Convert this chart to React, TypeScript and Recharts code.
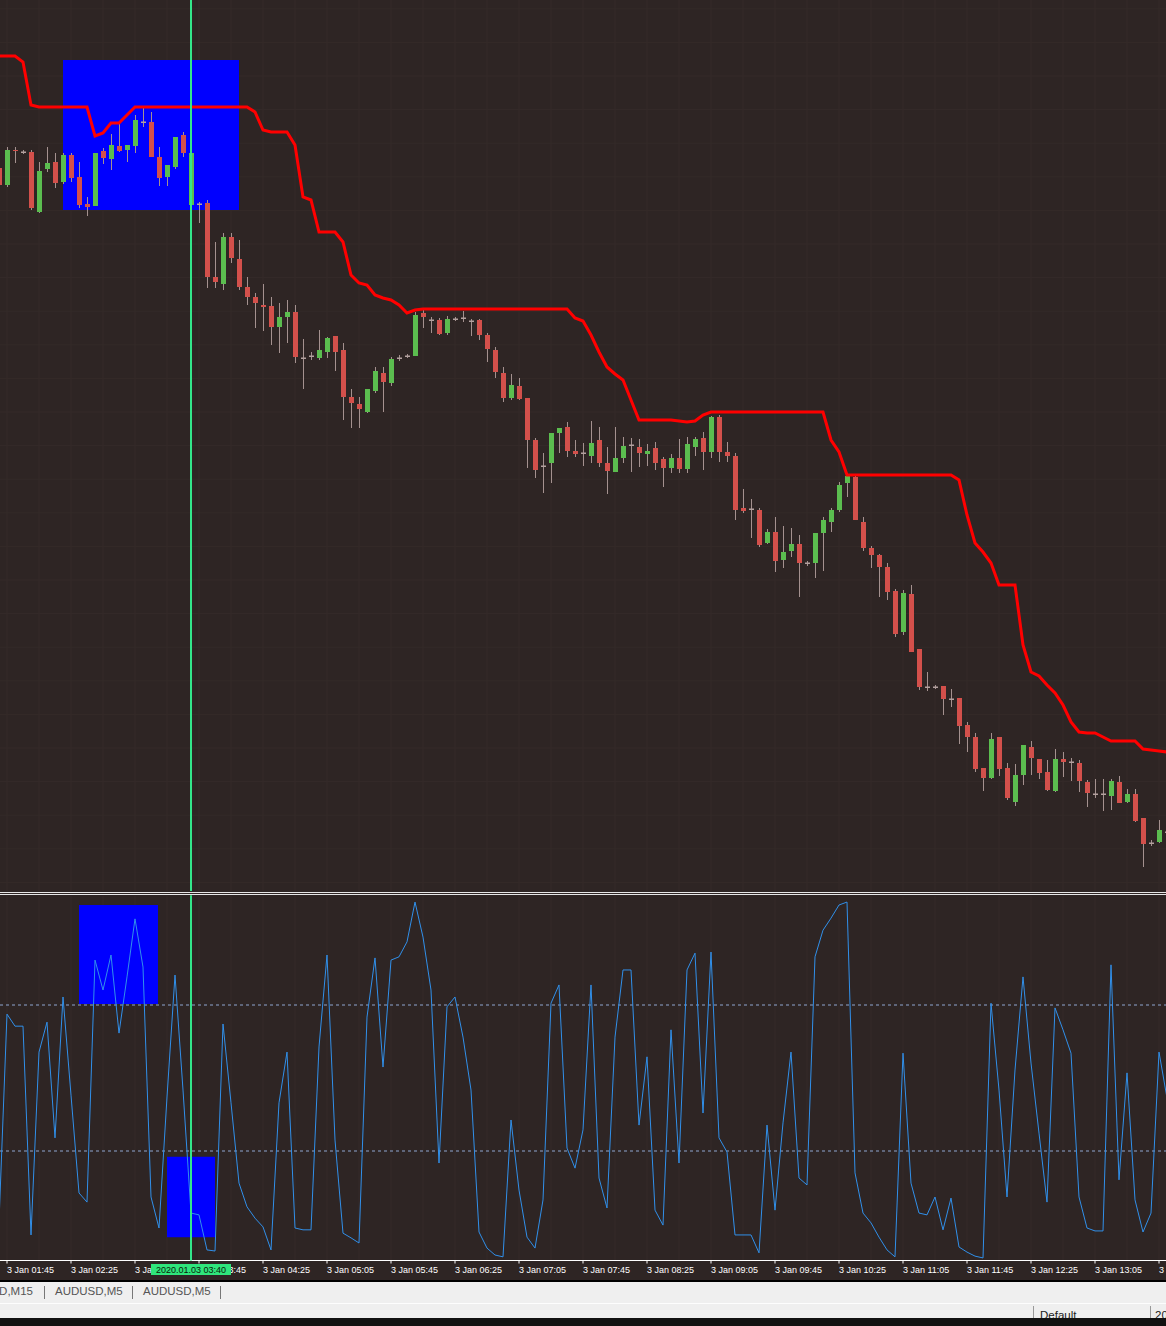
import React from 'react';
import {
  ComposedChart,
  Bar,
  Line,
  XAxis,
  YAxis,
  ReferenceArea,
  ReferenceLine,
  CartesianGrid,
} from 'recharts';

// ---------- data (AUDUSD M5, 3 Jan 2020, first bar = 01:40) ----------
const OPEN = [
  0.69832, 0.69815, 0.6985, 0.69848, 0.69848, 0.69788, 0.69831, 0.69838, 0.69818, 0.69845,
  0.69823, 0.69796, 0.69794, 0.69849, 0.69841, 0.69854, 0.6985, 0.69854, 0.69878, 0.69878,
  0.69843, 0.69823, 0.69833, 0.69865, 0.69795, 0.69796, 0.69797, 0.69723, 0.69716, 0.69763,
  0.69741, 0.69713, 0.69703, 0.69695, 0.69694, 0.69673, 0.69683, 0.69688, 0.69642, 0.69644,
  0.69642, 0.69648, 0.69664, 0.6965, 0.69603, 0.69596, 0.69588, 0.69609, 0.69627, 0.69617,
  0.69642, 0.69644, 0.69644, 0.69687, 0.6968, 0.6968, 0.69667, 0.69681, 0.69682, 0.69679,
  0.6968, 0.69665, 0.6965, 0.69627, 0.69602, 0.69614, 0.69602, 0.6956, 0.69534, 0.69537,
  0.69567, 0.69573, 0.69549, 0.69547, 0.69544, 0.6956, 0.69537, 0.69528, 0.69542, 0.69555,
  0.69553, 0.69546, 0.69552, 0.69541, 0.69532, 0.69542, 0.69531, 0.69553, 0.69562, 0.69548,
  0.69583, 0.69548, 0.69544, 0.69492, 0.69491, 0.6949, 0.69457, 0.69468, 0.6944, 0.69449,
  0.69456, 0.69437, 0.69437, 0.69467, 0.69478, 0.6949, 0.69517, 0.69523, 0.69478, 0.69452,
  0.69445, 0.69433, 0.69409, 0.69368, 0.69406, 0.69351, 0.69313, 0.69313, 0.69314, 0.69301,
  0.69302, 0.69275, 0.69263, 0.69232, 0.69222, 0.69263, 0.69232, 0.69198, 0.69225, 0.69253,
  0.69241, 0.69228, 0.69209, 0.69241, 0.69238, 0.69237, 0.69218, 0.69206, 0.69206, 0.69204,
  0.69218, 0.69198, 0.69206, 0.69182, 0.69157, 0.69158, 0.69168,
];
const HIGH = [
  0.69842, 0.69853, 0.69853, 0.6985, 0.6985, 0.69838, 0.69853, 0.69847, 0.69847, 0.69847,
  0.69838, 0.69803, 0.69847, 0.69852, 0.69866, 0.69877, 0.69855, 0.69885, 0.69892, 0.69888,
  0.69853, 0.69835, 0.69863, 0.69868, 0.6985, 0.69798, 0.698, 0.69758, 0.69767, 0.69767,
  0.6976, 0.69723, 0.69707, 0.69716, 0.69703, 0.69697, 0.697, 0.69695, 0.69661, 0.69648,
  0.6967, 0.69663, 0.69664, 0.69657, 0.69611, 0.69603, 0.69611, 0.69633, 0.69633, 0.69643,
  0.69645, 0.69646, 0.69688, 0.6969, 0.69683, 0.69682, 0.69684, 0.69683, 0.69689, 0.69681,
  0.69681, 0.69667, 0.69653, 0.69633, 0.69626, 0.69622, 0.69602, 0.69562, 0.69547, 0.69567,
  0.69572, 0.69578, 0.6956, 0.69557, 0.69579, 0.69573, 0.69553, 0.69573, 0.69563, 0.69562,
  0.69561, 0.69556, 0.69558, 0.69543, 0.69546, 0.69561, 0.69563, 0.69563, 0.69568, 0.69584,
  0.69585, 0.69558, 0.69547, 0.69511, 0.69501, 0.69492, 0.69471, 0.69483, 0.69474, 0.69472,
  0.69465, 0.69439, 0.69467, 0.69483, 0.69492, 0.69518, 0.69524, 0.69524, 0.69483, 0.69454,
  0.69446, 0.69437, 0.69411, 0.6941, 0.69415, 0.69351, 0.69328, 0.69315, 0.69314, 0.69311,
  0.69302, 0.69278, 0.69267, 0.69232, 0.69267, 0.69263, 0.69237, 0.69236, 0.69255, 0.69259,
  0.69241, 0.6924, 0.69251, 0.69248, 0.69242, 0.6924, 0.6922, 0.69221, 0.69221, 0.69221,
  0.69224, 0.69211, 0.69211, 0.69182, 0.6916, 0.6918, 0.6917,
];
const LOW = [
  0.69813, 0.69813, 0.69837, 0.69846, 0.6979, 0.69787, 0.69828, 0.69812, 0.69816, 0.69818,
  0.69792, 0.69784, 0.69794, 0.69836, 0.6983, 0.69848, 0.69838, 0.69847, 0.69873, 0.69843,
  0.69814, 0.69814, 0.69831, 0.69843, 0.69794, 0.69777, 0.69712, 0.69712, 0.6971, 0.69737,
  0.6971, 0.69695, 0.69672, 0.69669, 0.69655, 0.69647, 0.69657, 0.69637, 0.69611, 0.6964,
  0.6964, 0.69642, 0.69629, 0.6958, 0.69572, 0.69572, 0.69587, 0.69607, 0.69588, 0.69614,
  0.69639, 0.69642, 0.69644, 0.69672, 0.69667, 0.69665, 0.69665, 0.69679, 0.69678, 0.69664,
  0.6966, 0.69638, 0.69622, 0.69598, 0.696, 0.696, 0.69532, 0.69522, 0.69507, 0.69517,
  0.69547, 0.69543, 0.69543, 0.69534, 0.69537, 0.69533, 0.69506, 0.69528, 0.69537, 0.69528,
  0.69533, 0.69534, 0.6953, 0.69513, 0.69527, 0.69527, 0.69527, 0.69544, 0.6953, 0.69542,
  0.69538, 0.69538, 0.6948, 0.69487, 0.69462, 0.69453, 0.69456, 0.69428, 0.69432, 0.69443,
  0.69403, 0.69434, 0.69422, 0.69429, 0.69468, 0.69488, 0.69503, 0.6948, 0.69449, 0.69432,
  0.69403, 0.694, 0.69363, 0.69365, 0.69348, 0.6931, 0.69309, 0.69311, 0.69285, 0.69293,
  0.69256, 0.69248, 0.69228, 0.69209, 0.69221, 0.69224, 0.692, 0.69194, 0.69215, 0.69225,
  0.69221, 0.69209, 0.69208, 0.69223, 0.69219, 0.69208, 0.69193, 0.69202, 0.69189, 0.6919,
  0.69197, 0.69197, 0.69178, 0.69133, 0.69154, 0.69157, 0.69166,
];
const CLOSE = [
  0.69815, 0.6985, 0.69849, 0.69848, 0.69792, 0.69829, 0.69837, 0.69817, 0.69845, 0.69822,
  0.69795, 0.69793, 0.69847, 0.69842, 0.69855, 0.69849, 0.69855, 0.6988, 0.69878, 0.69843,
  0.69822, 0.69835, 0.69863, 0.69847, 0.69847, 0.69796, 0.69723, 0.69718, 0.69763, 0.69742,
  0.69713, 0.69703, 0.69697, 0.69693, 0.69673, 0.69683, 0.69688, 0.69643, 0.69642, 0.69644,
  0.6965, 0.69662, 0.69648, 0.69603, 0.69597, 0.69591, 0.69611, 0.69629, 0.69618, 0.69641,
  0.69642, 0.69644, 0.69685, 0.69683, 0.6968, 0.69666, 0.69681, 0.69681, 0.69682, 0.69679,
  0.69665, 0.69651, 0.69628, 0.69602, 0.69615, 0.69601, 0.6956, 0.6953, 0.69534, 0.69567,
  0.69572, 0.69549, 0.69546, 0.69547, 0.69557, 0.69537, 0.69529, 0.69542, 0.69554, 0.69555,
  0.69547, 0.69549, 0.69537, 0.69532, 0.69542, 0.69531, 0.69556, 0.69561, 0.69548, 0.69583,
  0.69548, 0.69544, 0.6949, 0.69489, 0.69491, 0.69455, 0.69468, 0.69439, 0.69448, 0.69456,
  0.69437, 0.69437, 0.69467, 0.6948, 0.6949, 0.69515, 0.69524, 0.6948, 0.69452, 0.69445,
  0.69433, 0.69408, 0.69366, 0.69407, 0.69348, 0.69313, 0.69313, 0.69313, 0.69301, 0.69301,
  0.69274, 0.69263, 0.69231, 0.69222, 0.69261, 0.69231, 0.69202, 0.69225, 0.69255, 0.69242,
  0.69227, 0.6921, 0.69241, 0.69238, 0.69238, 0.69219, 0.69207, 0.69206, 0.69206, 0.69219,
  0.69197, 0.69206, 0.69179, 0.69156, 0.69157, 0.6917, 0.69168,
];
// red channel line
const UPPER = [
  0.69944, 0.69944, 0.69944, 0.69938, 0.69895, 0.69893, 0.69893, 0.69893, 0.69893, 0.69893,
  0.69893, 0.69893, 0.69864, 0.69867, 0.69877, 0.69877, 0.69885, 0.69893, 0.69893, 0.69893,
  0.69893, 0.69893, 0.69893, 0.69893, 0.69893, 0.69893, 0.69893, 0.69893, 0.69893, 0.69893,
  0.69893, 0.69893, 0.69888, 0.6987, 0.69868, 0.69868, 0.69868, 0.69855, 0.69803, 0.698,
  0.69768, 0.69768, 0.69768, 0.69758, 0.69725, 0.69717, 0.69715, 0.69705, 0.69702, 0.697,
  0.69695, 0.69687, 0.6969, 0.69691, 0.69691, 0.69691, 0.69691, 0.69691, 0.69691, 0.69691,
  0.69691, 0.69691, 0.69691, 0.69691, 0.69691, 0.69691, 0.69691, 0.69691, 0.69691, 0.69691,
  0.69691, 0.69691, 0.69682, 0.69679, 0.69665, 0.69648, 0.69633, 0.69626, 0.6962, 0.696,
  0.6958, 0.6958, 0.6958, 0.6958, 0.6958, 0.69579, 0.69578, 0.69579, 0.69585, 0.69588,
  0.69588, 0.69588, 0.69588, 0.69588, 0.69588, 0.69588, 0.69588, 0.69588, 0.69588, 0.69588,
  0.69588, 0.69588, 0.69588, 0.69588, 0.6956, 0.69548, 0.69525, 0.69525, 0.69525, 0.69525,
  0.69525, 0.69525, 0.69525, 0.69525, 0.69525, 0.69525, 0.69525, 0.69525, 0.69525, 0.69525,
  0.6952, 0.69485, 0.69457, 0.69448, 0.69437, 0.69415, 0.69415, 0.69415, 0.69355, 0.69328,
  0.69324, 0.69315, 0.69307, 0.69295, 0.69278, 0.69268, 0.69267, 0.69267, 0.69263, 0.69259,
  0.69259, 0.69259, 0.69259, 0.69251, 0.6925, 0.69249, 0.69248,
];
// oscillator (0..100)
const OSC = [
  10.5, 67.5, 64.2, 64.2, 7.0, 57.1, 65.3, 33.6, 72.2, 45.3,
  18.5, 16.0, 82.3, 74.1, 83.7, 62.3, 77.7, 93.6, 80.4, 17.4,
  8.9, 44.8, 78.2, 46.7, 13.0, 12.5, 2.9, 2.6, 64.8, 43.2,
  21.2, 14.7, 11.6, 9.2, 2.9, 43.2, 57.1, 8.9, 8.4, 8.4,
  58.5, 83.7, 33.0, 7.5, 6.2, 4.8, 66.7, 82.9, 53.0, 82.3,
  83.2, 87.3, 98.2, 88.6, 74.1, 26.7, 69.5, 72.2, 61.2, 46.7,
  7.8, 3.4, 1.5, 1.0, 38.5, 19.3, 6.4, 3.4, 16.6, 70.5,
  75.5, 30.8, 25.3, 35.8, 75.5, 22.6, 14.4, 61.2, 79.6, 79.6,
  37.1, 55.8, 13.8, 9.7, 63.2, 26.7, 79.6, 84.2, 40.4, 84.5,
  33.6, 29.7, 7.0, 7.0, 7.0, 2.1, 37.1, 13.8, 37.7, 57.1,
  22.6, 20.7, 83.2, 90.5, 93.8, 97.4, 98.2, 24.0, 13.0, 10.3,
  6.4, 2.9, 1.0, 56.8, 21.2, 13.0, 12.5, 17.4, 8.4, 17.1,
  3.7, 2.3, 1.2, 0.7, 70.5, 46.7, 17.4, 52.2, 77.7, 54.1,
  34.9, 16.0, 69.2, 63.2, 56.8, 17.4, 8.9, 8.1, 8.1, 81.0,
  22.1, 51.4, 16.6, 7.8, 13.0, 57.1, 44.5,
];
const TICK_INDEX = [1, 9, 17, 25, 33, 41, 49, 57, 65, 73, 81, 89, 97, 105, 113, 121, 129, 137, 145];
const TICK_LABELS = [
  '3 Jan 01:45', '3 Jan 02:25', '3 Jan 03:05', '3 Jan 03:45', '3 Jan 04:25', '3 Jan 05:05',
  '3 Jan 05:45', '3 Jan 06:25', '3 Jan 07:05', '3 Jan 07:45', '3 Jan 08:25', '3 Jan 09:05',
  '3 Jan 09:45', '3 Jan 10:25', '3 Jan 11:05', '3 Jan 11:45', '3 Jan 12:25', '3 Jan 13:05',
  '3 Jan 13:45',
];
const CURSOR_INDEX = 24;
const CURSOR_LABEL = '2020.01.03 03:40';
const MAIN_BOXES = [{ x1: 8, x2: 30, y1: 0.6979, y2: 0.6994 }];
const SUB_BOXES = [
  { x1: 10, x2: 19.875, y1: 70.3, y2: 97.4 },
  { x1: 21, x2: 27, y1: 6.4, y2: 28.4 },
];
const LEVELS = [70, 30];
const TABS = ['AUDUSD,M15', 'AUDUSD,M5', 'AUDUSD,M5'];

const rows = OPEN.map((o, i) => ({
  i,
  open: o,
  high: HIGH[i],
  low: LOW[i],
  close: CLOSE[i],
  range: [LOW[i], HIGH[i]],
  upper: UPPER[i],
  osc: OSC[i],
}));

// ---------- styling ----------
const BG = '#2e2524';
const GRID = '#342a29';
const X_DOMAIN: [number, number] = [0.125, 145.875];
const FONT = "'Liberation Sans', Arial, sans-serif";
const H_GRID = Array.from({ length: 27 }, (_, n) => 8.8 + 33.6 * n);
const V_GRID = Array.from({ length: 37 }, (_, n) => 7 + 32 * n);
const SUB_MARGIN = { top: 0.5, right: 0, bottom: 0.5, left: 0 };

const Candle = (props: any) => {
  const { x, y, width, height, payload } = props;
  if (!payload || x == null) return null;
  const { open, high, low, close } = payload;
  const top = Math.min(y, y + height);
  const h = Math.abs(height);
  const k = high - low > 0 ? h / (high - low) : 0;
  const cx = Math.round(x + width / 2);
  const yo = top + (high - open) * k;
  const yc = top + (high - close) * k;
  const bTop = Math.min(yo, yc);
  const bH = Math.abs(yc - yo);
  const wick = '#a4918f';
  let body;
  if (close > open) {
    body = <rect x={cx - 2} y={bTop} width={5} height={Math.max(bH, 1)} fill="#5bbd4f" />;
  } else if (close < open) {
    body = <rect x={cx - 2} y={bTop} width={5} height={Math.max(bH, 1)} fill="#d3504b" />;
  } else {
    body = <rect x={cx - 2} y={bTop - 0.5} width={5} height={1.5} fill="#b3a19f" />;
  }
  return (
    <g>
      <line x1={cx + 0.5} x2={cx + 0.5} y1={top} y2={top + h} stroke={wick} strokeWidth={1} />
      {body}
    </g>
  );
};

const TimeTick = (props: any) => {
  const { x, y, payload } = props;
  const idx = TICK_INDEX.indexOf(payload.value);
  return (
    <text x={x} y={y + 7} fill="#ffffff" fontSize={9} fontFamily={FONT} textAnchor="start">
      {TICK_LABELS[idx]}
    </text>
  );
};

const CursorLabel = (props: any) => {
  const vb = props.viewBox || {};
  const cx = vb.x;
  const bottom = vb.y + vb.height;
  return (
    <g>
      <rect x={cx - 40} y={bottom + 3.5} width={80} height={11} fill="#2fe57c" />
      <text x={cx} y={bottom + 12.5} textAnchor="middle" fontSize={9} fontFamily={FONT} fill="#0a1a0a">
        {CURSOR_LABEL}
      </text>
    </g>
  );
};

const abs = (top: number, left: number, extra: any = {}) => ({ position: 'absolute' as const, top, left, ...extra });

export default function App() {
  return (
    <div style={{ position: 'absolute', left: 0, top: 0, width: 1166, height: 1326, overflow: 'hidden', background: BG, fontFamily: FONT }}>
      {/* main price panel */}
      <div style={abs(0, 0)}>
        <ComposedChart width={1166} height={891} data={rows} margin={{ top: 0, right: 0, bottom: 0, left: 0 }}>
          <CartesianGrid stroke={GRID} horizontalPoints={H_GRID} verticalPoints={V_GRID} />
          <XAxis type="number" dataKey="i" domain={X_DOMAIN} allowDataOverflow hide />
          <YAxis type="number" domain={[0.69109, 0.7]} allowDataOverflow hide />
          {MAIN_BOXES.map((b, k) => (
            <ReferenceArea key={k} x1={b.x1} x2={b.x2} y1={b.y1} y2={b.y2} fill="#0000ff" fillOpacity={1} stroke="none" />
          ))}
          <Bar dataKey="range" shape={Candle} barSize={5} isAnimationActive={false} />
          <Line type="linear" dataKey="upper" stroke="#ff0000" strokeWidth={3} dot={false} activeDot={false} isAnimationActive={false} />
          <ReferenceLine x={CURSOR_INDEX} stroke="#33e68a" strokeWidth={2} />
        </ComposedChart>
      </div>

      {/* separator */}
      <div style={abs(892, 0, { width: 1166, height: 1, background: '#e6e6e6' })} />
      <div style={abs(894, 0, { width: 1166, height: 1, background: '#e6e6e6' })} />

      {/* oscillator panel + time axis */}
      <div style={abs(895, 0)}>
        <ComposedChart width={1166} height={385} data={rows} margin={SUB_MARGIN}>
          <CartesianGrid stroke={GRID} horizontal={false} verticalPoints={V_GRID} />
          <XAxis
            type="number"
            dataKey="i"
            domain={X_DOMAIN}
            allowDataOverflow
            ticks={TICK_INDEX}
            interval={0}
            tick={<TimeTick />}
            tickSize={3}
            tickLine={{ stroke: '#ffffff' }}
            axisLine={{ stroke: '#ffffff' }}
            height={19}
          />
          <YAxis type="number" domain={[0, 100]} allowDataOverflow hide />
          {SUB_BOXES.map((b, k) => (
            <ReferenceArea key={k} x1={b.x1} x2={b.x2} y1={b.y1} y2={b.y2} fill="#0000ff" fillOpacity={1} stroke="none" />
          ))}
          {LEVELS.map((v) => (
            <ReferenceLine key={v} y={v} stroke="#8ea6cf" strokeDasharray="3 3" />
          ))}
          <Line type="linear" dataKey="osc" stroke="#3190ea" strokeWidth={1} dot={false} activeDot={false} isAnimationActive={false} />
          <ReferenceLine x={CURSOR_INDEX} stroke="#33e68a" strokeWidth={2} />
        </ComposedChart>
      </div>

      {/* cursor time label overlay (drawn above the time axis) */}
      <div style={abs(895, 0, { pointerEvents: 'none' })}>
        <ComposedChart width={1166} height={385} data={rows} margin={{ ...SUB_MARGIN, bottom: 19.5 }}>
          <XAxis type="number" dataKey="i" domain={X_DOMAIN} allowDataOverflow hide />
          <YAxis type="number" domain={[0, 100]} allowDataOverflow hide />
          <ReferenceLine x={CURSOR_INDEX} stroke="#33e68a" strokeWidth={2} label={<CursorLabel />} />
        </ComposedChart>
      </div>

      {/* terminal tab bar */}
      <div style={abs(1280, 0, { width: 1166, height: 2, background: '#000' })} />
      <div style={abs(1282, 0, { width: 1166, height: 36, background: '#efefef' })} />
      <div style={abs(1303, 0, { width: 1166, height: 1, background: '#fdfdfd' })} />
      <div style={abs(1285, -100, { width: 133, textAlign: 'right', fontSize: 11.5, color: '#555', whiteSpace: 'nowrap' })}>{TABS[0]}</div>
      <div style={abs(1286, 44, { width: 1, height: 13, background: '#777' })} />
      <div style={abs(1285, 55, { fontSize: 11.5, color: '#555', whiteSpace: 'nowrap' })}>{TABS[1]}</div>
      <div style={abs(1286, 132, { width: 1, height: 13, background: '#777' })} />
      <div style={abs(1285, 143, { fontSize: 11.5, color: '#555', whiteSpace: 'nowrap' })}>{TABS[2]}</div>
      <div style={abs(1286, 220, { width: 1, height: 13, background: '#777' })} />
      <div style={abs(1306, 1033, { width: 1, height: 12, background: '#999' })} />
      <div style={abs(1309, 1040, { fontSize: 11.5, color: '#222', whiteSpace: 'nowrap' })}>Default</div>
      <div style={abs(1306, 1150, { width: 1, height: 12, background: '#999' })} />
      <div style={abs(1309, 1155, { fontSize: 11.5, color: '#222', whiteSpace: 'nowrap' })}>2020</div>
      <div style={abs(1318, 0, { width: 1166, height: 8, background: '#111' })} />
    </div>
  );
}
